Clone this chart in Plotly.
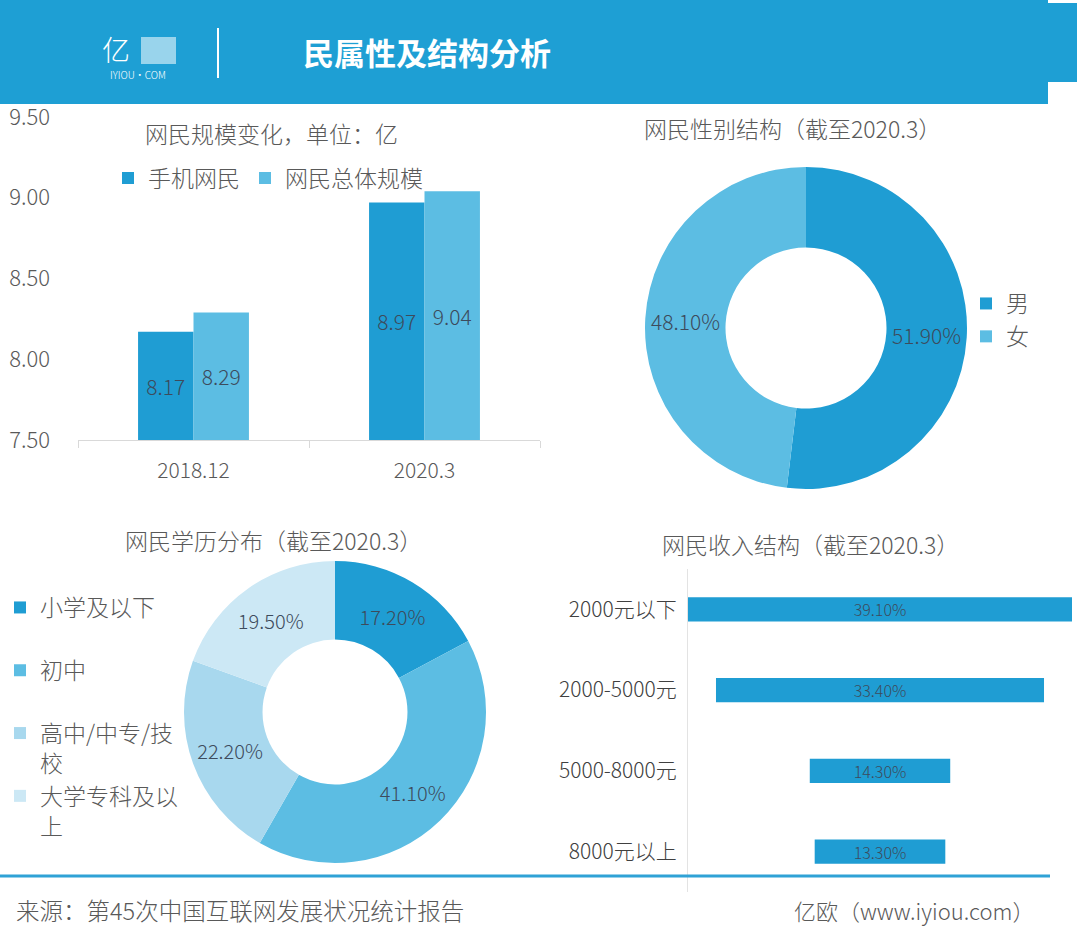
import plotly.graph_objects as go

# ---------------- data ----------------
scale_periods = ["2018.12", "2020.3"]
mobile_users = [8.17, 8.97]
total_users = [8.29, 9.04]
scale_names = ["手机网民", "网民总体规模"]
scale_axis_min = 7.5

gender_labels = ["男", "女"]
gender_values = [51.9, 48.1]

edu_labels = ["小学及以下<br> ", "初中<br> ", "高中/中专/技<br>校", "大学专科及以<br>上"]
edu_values = [17.2, 41.1, 22.2, 19.5]

income_labels = ["2000元以下", "2000-5000元", "5000-8000元", "8000元以上"]
income_values = [39.1, 33.4, 14.3, 13.3]

# ---------------- styling ----------------
W, H = 1080, 944
FONT = "Noto Sans CJK SC Light, Noto Sans CJK SC"
BOLDFONT = "Noto Sans CJK SC"
LIGHTW = 300
DARK = "#1f9dd3"
LIGHT = "#5cbde3"
PALE = "#a8d8ee"
PALER = "#cce8f5"
GRAY = "#595959"
LABEL = "#3d4b5c"
HEADER = "#1e9fd4"


def px(x):
    return x / W


def py(y):
    return 1 - y / H


def f(size, color=GRAY, **kw):
    d = dict(family=FONT, size=size, color=color, weight=LIGHTW)
    d.update(kw)
    return d


fig = go.Figure()

# bar chart: scale (bars drawn from the axis floor so labels sit mid-bar)
for name, vals, col in [(scale_names[0], mobile_users, DARK), (scale_names[1], total_users, LIGHT)]:
    fig.add_trace(go.Bar(
        x=scale_periods, y=[v - scale_axis_min for v in vals], base=scale_axis_min,
        customdata=vals, name=name,
        marker=dict(color=col, line=dict(width=0)),
        texttemplate="%{customdata:.2f}", hovertemplate="%{x}: %{customdata:.2f}<extra></extra>",
        textposition="inside", insidetextanchor="middle",
        textfont=f(21, LABEL), xaxis="x", yaxis="y", legend="legend",
    ))

# donut: gender
fig.add_trace(go.Pie(
    labels=gender_labels, values=gender_values, hole=0.5, sort=False,
    direction="clockwise", rotation=0,
    marker=dict(colors=[DARK, LIGHT], line=dict(width=0)),
    texttemplate="%{value:.2f}%", textposition="inside",
    insidetextorientation="horizontal",
    textfont=f(21, LABEL),
    domain=dict(x=[px(806 - 161), px(806 + 161)], y=[py(328 + 161), py(328 - 161)]),
    legend="legend2",
))

# donut: education
fig.add_trace(go.Pie(
    labels=edu_labels, values=edu_values, hole=0.48, sort=False,
    direction="clockwise", rotation=0,
    marker=dict(colors=[DARK, LIGHT, PALE, PALER], line=dict(width=0)),
    texttemplate="%{value:.2f}%", textposition="inside",
    insidetextorientation="horizontal",
    textfont=f(20, LABEL),
    domain=dict(x=[px(335 - 151), px(335 + 151)], y=[py(712 + 151), py(712 - 151)]),
    legend="legend3",
))

# income funnel-like bars
fig.add_trace(go.Funnel(
    y=income_labels, x=income_values,
    marker=dict(color=DARK, line=dict(width=0)),
    connector=dict(visible=False),
    texttemplate="%{x:.2f}%", textposition="inside", insidetextanchor="middle",
    textfont=f(16, LABEL),
    constraintext="none",
    xaxis="x2", yaxis="y2", showlegend=False,
))

shapes = [
    dict(type="rect", xref="paper", yref="paper", x0=0, x1=px(1048), y0=py(104), y1=1,
         fillcolor=HEADER, line=dict(width=0), layer="below"),
    dict(type="rect", xref="paper", yref="paper", x0=px(1048), x1=px(1077), y0=py(82), y1=py(3),
         fillcolor=HEADER, line=dict(width=0), layer="below"),
    dict(type="line", xref="paper", yref="paper", x0=px(218), x1=px(218), y0=py(78), y1=py(28),
         line=dict(color="white", width=2)),
    dict(type="rect", xref="paper", yref="paper", x0=px(141), x1=px(176), y0=py(64), y1=py(37),
         fillcolor="rgba(255,255,255,0.55)", line=dict(width=0)),
    dict(type="line", xref="paper", yref="paper", x0=0, x1=px(1050), y0=py(876), y1=py(876),
         line=dict(color="#2fa2d6", width=3)),
]

annotations = [
    dict(text="亿", x=px(116), y=py(49), font=f(28, "white")),
    dict(text="IYIOU·COM", x=px(138), y=py(75), font=f(10, "white")),
    dict(text="<b>民属性及结构分析</b>", x=px(427), y=py(52),
         font=dict(family=BOLDFONT, size=31, color="white")),
    dict(text="网民规模变化，单位：亿", x=px(271), y=py(133), font=f(23)),
    dict(text="网民性别结构（截至2020.3）", x=px(792), y=py(128), font=f(23)),
    dict(text="网民学历分布（截至2020.3）", x=px(273), y=py(540), font=f(23)),
    dict(text="网民收入结构（截至2020.3）", x=px(810), y=py(544), font=f(23)),
    dict(text="来源：第45次中国互联网发展状况统计报告", x=px(14), y=py(910), xanchor="left",
         font=f(23.5)),
    dict(text="亿欧（www.iyiou.com）", x=px(1036), y=py(910), xanchor="right",
         font=f(22)),
]
for a in annotations:
    a.update(xref="paper", yref="paper", showarrow=False)
    a.setdefault("xanchor", "center")
    a.setdefault("yanchor", "middle")

fig.update_layout(
    width=W, height=H,
    margin=dict(l=0, r=0, t=0, b=0, pad=0, autoexpand=False),
    paper_bgcolor="white", plot_bgcolor="white",
    font=dict(family=FONT, color=GRAY, weight=LIGHTW),
    barmode="group", bargap=0.52, bargroupgap=0,
    funnelgap=0.7,
    xaxis=dict(domain=[px(78), px(540)], anchor="y", type="category",
               showline=True, linecolor="#d9d9d9", linewidth=1,
               ticks="outside", tickson="boundaries", ticklen=7, tickcolor="#d9d9d9",
               ticklabelstandoff=12, automargin=False,
               tickfont=f(21), showgrid=False),
    yaxis=dict(domain=[py(440), py(117)], range=[7.5, 9.5], dtick=0.5, tickformat=".2f",
               anchor="free", position=px(50), showgrid=False, zeroline=False,
               showline=False, automargin=False, tickfont=f(22)),
    xaxis2=dict(domain=[px(688), px(1072)], anchor="y2", range=[-19.55, 19.55],
                visible=False, automargin=False),
    yaxis2=dict(domain=[py(892), py(569)], anchor="x2", type="category",
                range=[3.5, -0.5], showline=True, linecolor="#e3e3e3", linewidth=1,
                showgrid=False, ticks="", ticklabelstandoff=6, automargin=False,
                tickfont=f(21, "#404040")),
    legend=dict(orientation="h", x=px(108), y=py(178), xanchor="left", yanchor="middle",
                font=f(23), bgcolor="rgba(0,0,0,0)", itemwidth=30),
    legend2=dict(orientation="v", x=px(966), y=py(320), xanchor="left", yanchor="middle",
                 font=f(23), bgcolor="rgba(0,0,0,0)"),
    legend3=dict(orientation="v", x=px(0), y=py(586), xanchor="left", yanchor="top",
                 font=f(23), bgcolor="rgba(0,0,0,0)", valign="top"),
    shapes=shapes,
    annotations=annotations,
)

post = (
    "document.documentElement.style.margin='0';"
    "document.body.style.margin='0';document.body.style.padding='0';"
    "document.body.style.overflow='hidden';"
    "var gd=document.getElementById('{plot_id}');"
    "gd.style.position='absolute';gd.style.left='0px';gd.style.top='0px';"
)

fig.write_html("out.html", post_script=post, config={"displayModeBar": False})
